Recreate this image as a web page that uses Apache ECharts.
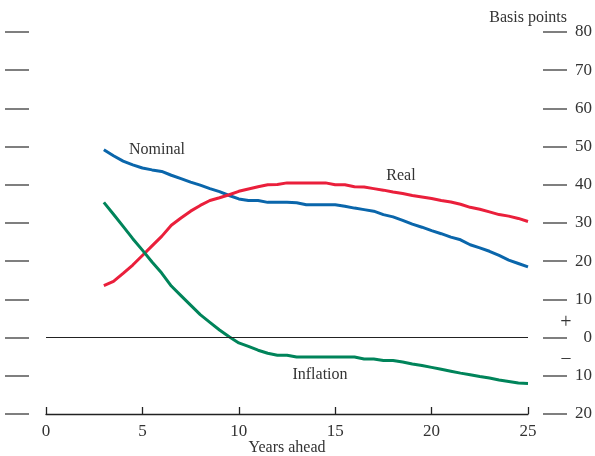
<!DOCTYPE html>
<html>
<head>
<meta charset="utf-8">
<script src="https://cdn.jsdelivr.net/npm/echarts@6/dist/echarts.min.js"></script>
<style>
  html, body { margin: 0; padding: 0; background: #fff; }
  #chart { width: 595px; height: 456px; }
</style>
</head>
<body>
<div id="chart"></div>
<script>
// Horizon in years, half-year steps
const years = [3, 3.5, 4, 4.5, 5, 5.5, 6, 6.5, 7, 7.5, 8, 8.5, 9, 9.5, 10, 10.5, 11, 11.5, 12, 12.5,
  13, 13.5, 14, 14.5, 15, 15.5, 16, 16.5, 17, 17.5, 18, 18.5, 19, 19.5, 20, 20.5, 21, 21.5, 22, 22.5,
  23, 23.5, 24, 24.5, 25];

// Basis points
const nominal = [49.2, 47.6, 46.2, 45.2, 44.4, 43.9, 43.5, 42.5, 41.6, 40.7, 39.9, 39.0, 38.2, 37.2, 36.3, 35.9,
  35.9, 35.4, 35.4, 35.4, 35.3, 34.8, 34.8, 34.8, 34.8, 34.4, 33.9, 33.5, 33.1, 32.2, 31.6, 30.7, 29.7, 28.9,
  28.0, 27.2, 26.3, 25.6, 24.3, 23.5, 22.6, 21.5, 20.3, 19.4, 18.5];
const real = [13.6, 14.7, 16.8, 19.0, 21.5, 24.0, 26.5, 29.4, 31.3, 33.1, 34.6, 35.9, 36.6, 37.4, 38.3, 38.9,
  39.5, 40.0, 40.1, 40.5, 40.5, 40.5, 40.5, 40.5, 40.0, 40.0, 39.5, 39.4, 39.0, 38.6, 38.1, 37.7, 37.2, 36.8,
  36.4, 35.9, 35.5, 34.9, 34.1, 33.6, 32.9, 32.2, 31.8, 31.2, 30.4];
const inflation = [35.4, 32.3, 29.1, 25.9, 22.9, 19.8, 16.9, 13.5, 11.0, 8.5, 6.0, 4.0, 2.0, 0.2, -1.4, -2.3,
  -3.3, -4.1, -4.6, -4.6, -5.1, -5.1, -5.1, -5.1, -5.1, -5.1, -5.1, -5.6, -5.6, -6.0, -6.0, -6.4, -6.9, -7.3,
  -7.8, -8.3, -8.8, -9.3, -9.7, -10.2, -10.6, -11.1, -11.5, -11.9, -12.0];

const xTicks = [0, 5, 10, 15, 20, 25];
const yTicks = [-20, -10, 0, 10, 20, 30, 40, 50, 60, 70, 80];

const FONT = '"Liberation Serif", "DejaVu Serif", serif';
const TEXT = '#333';

const pair = (vals) => years.map((y, i) => [y, vals[i]]);

const lineSeries = (name, vals, color, extra) => Object.assign({
  name: name,
  type: 'line',
  data: pair(vals),
  showSymbol: false,
  smooth: false,
  lineStyle: { color: color, width: 3 },
  z: 3
}, extra || {});

// Tick-only vertical scale; the right one also carries the labels
const sideAxis = (position, offset, withLabels) => ({
  type: 'value',
  position: position,
  offset: offset,
  min: yTicks[0],
  max: yTicks[yTicks.length - 1],
  interval: 10,
  axisLine: { show: false, onZero: false },
  axisTick: { show: true, length: 24, lineStyle: { color: '#555', width: 1.5 } },
  axisLabel: withLabels ? {
    fontFamily: FONT, fontSize: 17, color: TEXT, margin: 49, align: 'right',
    formatter: (v) => String(Math.abs(v))
  } : { show: false },
  splitLine: { show: false }
});

const chart = echarts.init(document.getElementById('chart'), null, { renderer: 'canvas' });

chart.setOption({
  animation: false,
  backgroundColor: '#fff',
  grid: { left: 46, right: 67, top: 32, bottom: 42, outerBoundsMode: 'none', containLabel: false },
  xAxis: {
    type: 'value',
    min: xTicks[0],
    max: xTicks[xTicks.length - 1],
    interval: 5,
    axisLine: { show: true, onZero: false, lineStyle: { color: '#222', width: 1.3 } },
    axisTick: { show: true, inside: true, length: 7, lineStyle: { color: '#222', width: 1.3 } },
    axisLabel: { fontFamily: FONT, fontSize: 17, color: TEXT, margin: 9 },
    splitLine: { show: false }
  },
  yAxis: [
    sideAxis('right', 15, true),
    sideAxis('left', 17, false)
  ],
  series: [
    lineSeries('Nominal', nominal, '#0a66ab', {
      markLine: {
        silent: true,
        symbol: 'none',
        label: { show: false },
        lineStyle: { color: '#222', width: 1.2, type: 'solid' },
        data: [{ yAxis: 0 }]
      }
    }),
    lineSeries('Real', real, '#ea1f3b'),
    lineSeries('Inflation', inflation, '#00845a')
  ],
  graphic: [
    { type: 'text', x: 567, y: 18, style: { text: 'Basis points', font: '16px ' + FONT, fill: TEXT, align: 'right', verticalAlign: 'middle' } },
    { type: 'text', x: 287, y: 448, style: { text: 'Years ahead', font: '16px ' + FONT, fill: TEXT, align: 'center', verticalAlign: 'middle' } },
    { type: 'text', x: 157, y: 150, style: { text: 'Nominal', font: '16px ' + FONT, fill: TEXT, align: 'center', verticalAlign: 'middle' } },
    { type: 'text', x: 401, y: 176, style: { text: 'Real', font: '16px ' + FONT, fill: TEXT, align: 'center', verticalAlign: 'middle' } },
    { type: 'text', x: 320, y: 375, style: { text: 'Inflation', font: '16px ' + FONT, fill: TEXT, align: 'center', verticalAlign: 'middle' } },
    { type: 'text', x: 566, y: 323, style: { text: '+', font: '20px ' + FONT, fill: TEXT, align: 'center', verticalAlign: 'middle' } },
    { type: 'text', x: 566, y: 358, style: { text: '\u2013', font: '18px ' + FONT, fill: TEXT, align: 'center', verticalAlign: 'middle' } }
  ]
});
</script>
</body>
</html>
